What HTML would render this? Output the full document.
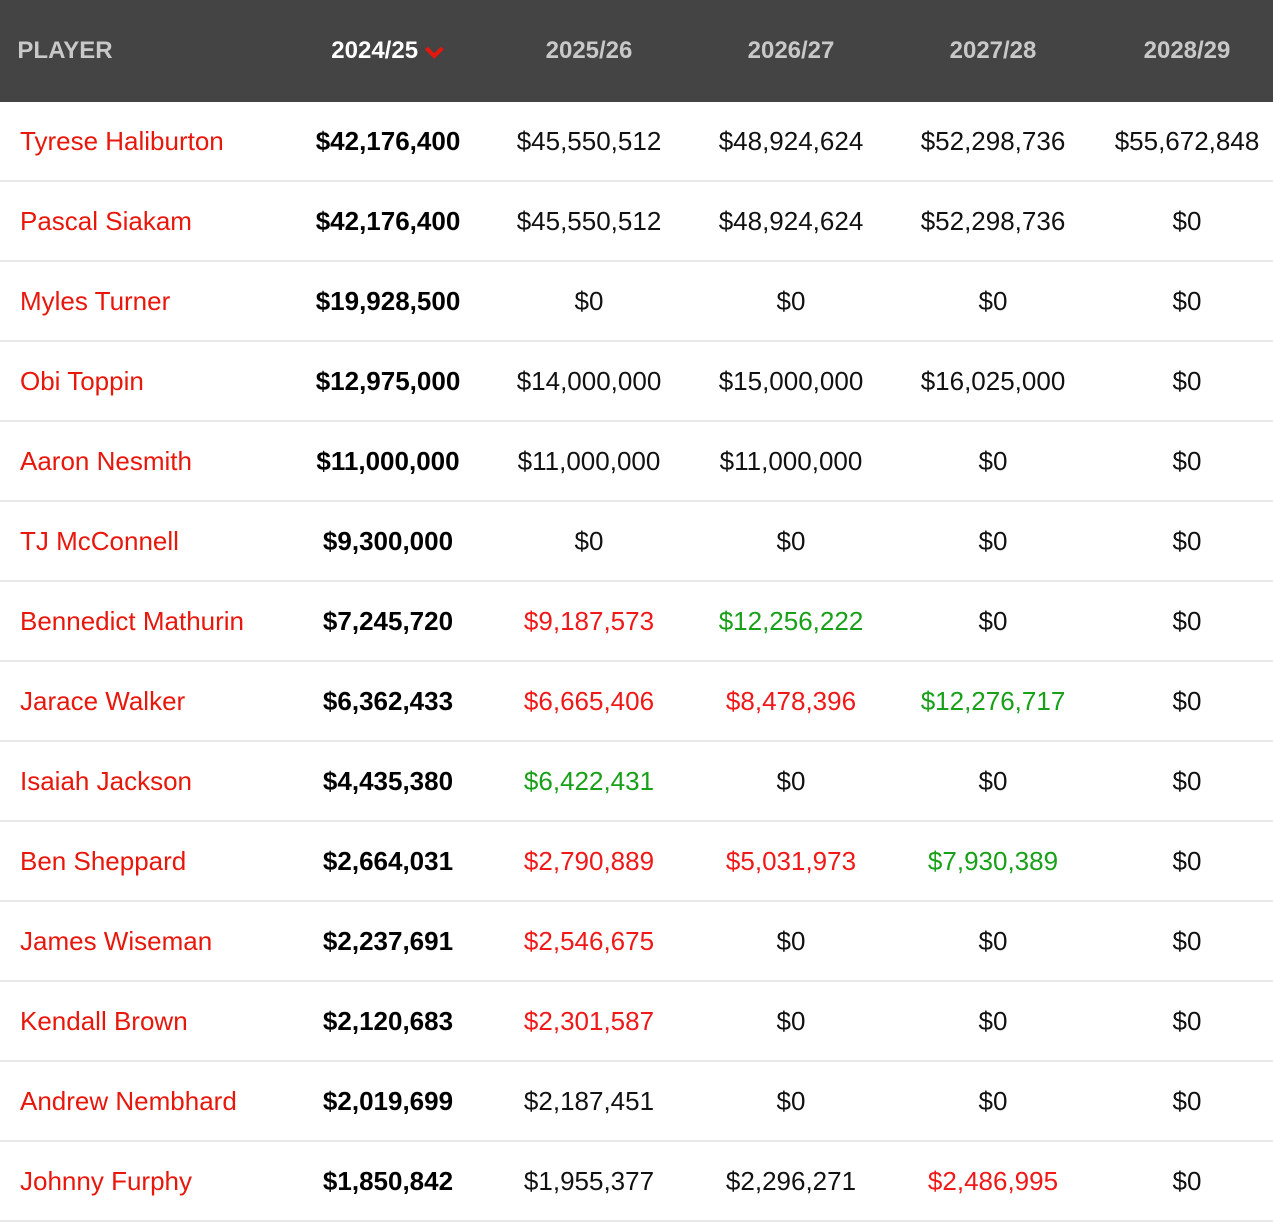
<!DOCTYPE html>
<html><head><meta charset="utf-8"><style>
body{margin:0;width:1273px;height:1219px;overflow:hidden;background:#fff;font-family:"Liberation Sans",Arial,sans-serif}
.hdr{position:absolute;left:0;top:0;width:1273px;height:102px;background:#444}
.h{position:absolute;top:37px;font-size:24px;font-weight:bold;color:#c8c8c8;transform:translateX(-50%);white-space:nowrap}
.row{position:absolute;left:0;width:1273px;height:78px;border-bottom:2px solid #e8e8e8}
.c{position:absolute;top:24px;font-size:26px;transform:translateX(-50%);white-space:nowrap;color:#111}
.n{position:absolute;left:20px;top:24px;font-size:26px;color:#e8170c}
.b{font-weight:bold;color:#000}
.r{color:#f01818}.g{color:#18a018}
</style></head><body>
<div class="hdr">
<div class="h" style="left:65px">PLAYER</div>
<div class="h" style="left:388px;color:#fff">2024/25 <svg width="20" height="14" viewBox="0 0 20 14" style="vertical-align:middle"><path d="M2 3 L10 11 L18 3" stroke="#e8170c" stroke-width="4" fill="none"/></svg></div>
<div class="h" style="left:589px">2025/26</div>
<div class="h" style="left:791px">2026/27</div>
<div class="h" style="left:993px">2027/28</div>
<div class="h" style="left:1187px">2028/29</div>
</div>
<div id="rows"></div>
<script>
const players=["Tyrese Haliburton","Pascal Siakam","Myles Turner","Obi Toppin","Aaron Nesmith","TJ McConnell","Bennedict Mathurin","Jarace Walker","Isaiah Jackson","Ben Sheppard","James Wiseman","Kendall Brown","Andrew Nembhard","Johnny Furphy"];
const y2425=["$42,176,400","$42,176,400","$19,928,500","$12,975,000","$11,000,000","$9,300,000","$7,245,720","$6,362,433","$4,435,380","$2,664,031","$2,237,691","$2,120,683","$2,019,699","$1,850,842"];
const y2526=["$45,550,512","$45,550,512","$0","$14,000,000","$11,000,000","$0","r$9,187,573","r$6,665,406","g$6,422,431","r$2,790,889","r$2,546,675","r$2,301,587","$2,187,451","$1,955,377"];
const y2627=["$48,924,624","$48,924,624","$0","$15,000,000","$11,000,000","$0","g$12,256,222","r$8,478,396","$0","r$5,031,973","$0","$0","$0","$2,296,271"];
const y2728=["$52,298,736","$52,298,736","$0","$16,025,000","$0","$0","$0","g$12,276,717","$0","g$7,930,389","$0","$0","$0","r$2,486,995"];
const y2829=["$55,672,848","$0","$0","$0","$0","$0","$0","$0","$0","$0","$0","$0","$0","$0"];
const cols=[[y2526,589],[y2627,791],[y2728,993],[y2829,1187]];
const root=document.getElementById('rows');
players.forEach((p,i)=>{
  const r=document.createElement('div');r.className='row';r.style.top=(102+80*i)+'px';
  
  
  const n=document.createElement('div');n.className='n';n.textContent=p;
  
  
  r.appendChild(n);
  const b=document.createElement('div');b.className='c b';b.style.left='388px';b.textContent=y2425[i];
  
  
  r.appendChild(b);
  cols.forEach(([arr,x])=>{
    let v=arr[i],cls='';
    if(v[0]==='r'||v[0]==='g'){cls=v[0];v=v.slice(1);}
    const c=document.createElement('div');c.className='c '+cls;c.style.left=x+'px';c.textContent=v;
    
    
    r.appendChild(c);
  });
  root.appendChild(r);
});
</script>
</body></html>
